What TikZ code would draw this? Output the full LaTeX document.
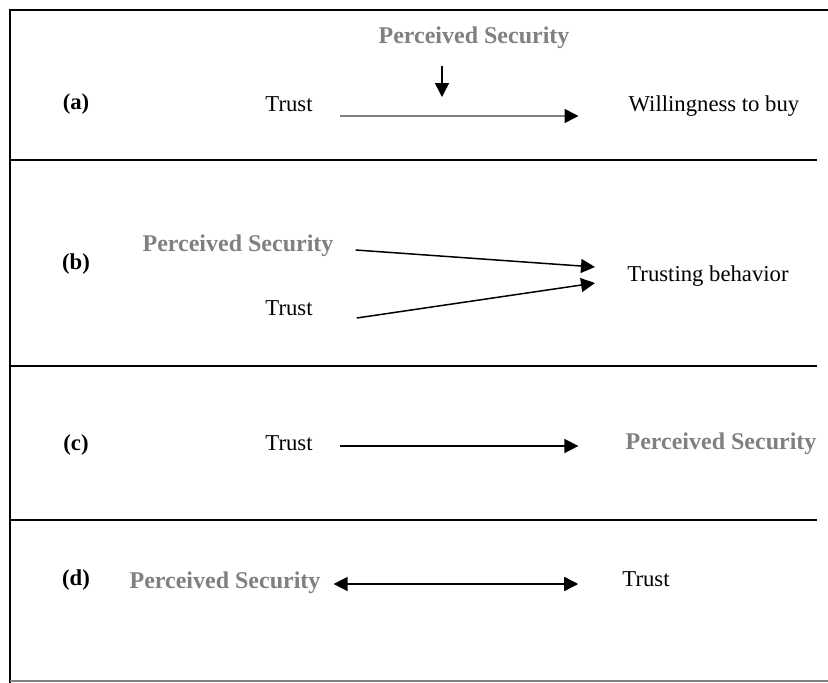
\documentclass[tikz,border=0pt]{standalone}
\usepackage{fontspec}
\setmainfont{Liberation Serif}
\usepackage{tikz}
\usetikzlibrary{arrows.meta,positioning,calc}
\definecolor{psgray}{RGB}{128,128,128}
\tikzset{
    bighead/.tip={Triangle[length=14pt,width=14pt,color=black]},
    term/.style={
        inner sep=0pt,
        font=\fontsize{22.7}{26}\selectfont,
    },
    sec/.style={
        inner sep=0pt,
        text=psgray,
        font=\fontsize{24}{28}\selectfont\bfseries,
    },
    tag/.style={
        inner sep=0pt,
        font=\fontsize{22.7}{26}\selectfont\bfseries,
    },
    link/.style={
        draw,
        -bighead,
        line width=1.5pt,
    },
    rule/.style={
        draw,
        line width=2pt,
    },
}

\begin{document}
\begin{tikzpicture}[x=1pt,y=-1pt]
    \useasboundingbox (0,0) rectangle (828,683);
    % frame and separators
    \coordinate (tl) at (10,10);
    \coordinate (tr) at (828,10);
    \coordinate (bl) at (10,683);
    \draw[rule] (tr) -- (tl) -- (bl);
    \foreach \y in {160,366,520} {
        \draw[line width=1.8pt] (10,\y) -- (817,\y);
    }
    \draw[line width=2pt,psgray] (10,681) -- (828,681);

    % (a)
    \node [tag] (tagA) at (76,104) {(a)};
    \node [term] (trustA) at (289,104) {Trust};
    \node [term] (buyA) at (714,106) {Willingness to buy};
    \node [sec] (psA) at (474,38) {Perceived Security};
    \coordinate (dropA) at (442,97);
    \draw [link,psgray] ([xshift=27,yshift=-12]trustA.east) -- ([xshift=-50,yshift=-10]buyA.west);
    \draw [link] ([yshift=-17]psA.south -| dropA) -- (dropA);

    % (b)
    \node [tag] (tagB) at (76,264) {(b)};
    \node [sec] (psB) at (238,246) {Perceived Security};
    \node [term] (trustB) at (289,308) {Trust};
    \node [term] (behB) at (708,276) {Trusting behavior};
    \coordinate (inB1) at (595,267);
    \coordinate (inB2) at (595,283);
    \draw [link] ([xshift=22,yshift=-4]psB.east) -- (inB1);
    \draw [link] ([xshift=44,yshift=-10]trustB.east) -- (inB2);

    % (c)
    \node [tag] (tagC) at (76,445) {(c)};
    \node [term] (trustC) at (289,443) {Trust};
    \node [sec] (psC) at (721,444) {Perceived Security};
    \draw [link] ([xshift=27,yshift=-3]trustC.east) -- ([xshift=-47,yshift=-2]psC.west);

    % (d)
    \node [tag] (tagD) at (76,580) {(d)};
    \node [sec] (psD) at (225,583) {Perceived Security};
    \node [term] (trustD) at (646,579) {Trust};
    \draw [link,bighead-bighead] ([xshift=13,yshift=-1]psD.east) -- ([xshift=-44,yshift=-5]trustD.west);
\end{tikzpicture}
\end{document}
